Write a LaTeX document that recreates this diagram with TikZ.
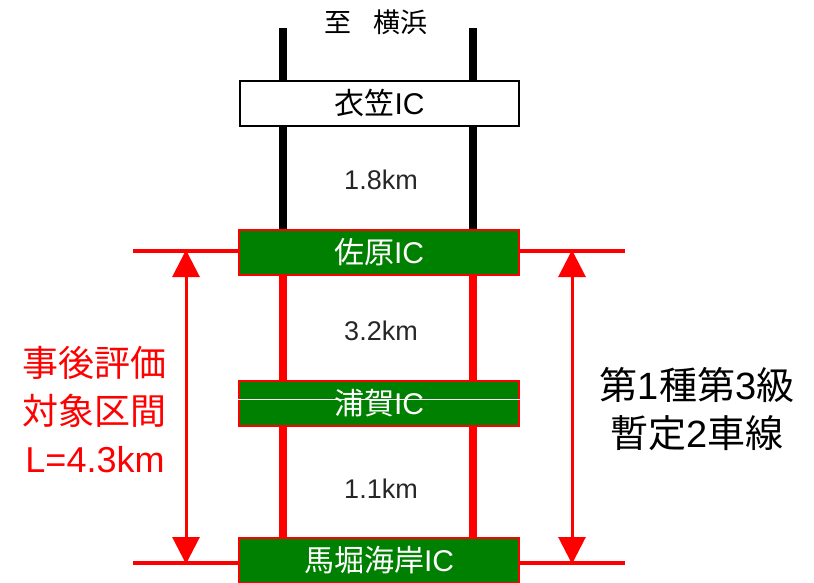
\documentclass[tikz,border=0pt]{standalone}
\usepackage{fontspec}
\setmainfont{Liberation Sans}
\newfontfamily\cjk{Noto Sans CJK JP}
\usetikzlibrary{arrows.meta}
\definecolor{icgreen}{RGB}{0,128,0}
\definecolor{roadred}{RGB}{255,0,0}
\tikzset{
  icbox/.style={draw=roadred,line width=2pt,fill=icgreen,minimum width=280pt,minimum height=45pt,inner sep=0pt,text=white,font=\fontsize{30}{32}\selectfont},
  whitebox/.style={draw=black,line width=2pt,fill=white,minimum width=279pt,minimum height=45pt,inner sep=0pt,text=black,font=\fontsize{30}{32}\selectfont},
  blackroad/.style={line width=8pt,black},
  redroad/.style={line width=8pt,roadred},
  redline/.style={line width=4pt,roadred},
  dimarrow/.style={line width=3pt,roadred,{Triangle[length=27pt,width=27pt]}-{Triangle[length=27pt,width=27pt]},shorten <=-1pt,shorten >=-1pt},
  dist/.style={font=\fontsize{27}{30}\selectfont,text=black!85},
  bigleft/.style={font=\fontsize{36}{48}\selectfont,align=center},
  bigright/.style={font=\fontsize{38}{48}\selectfont,align=center}
}
\begin{document}
\begin{tikzpicture}[x=1pt,y=-1pt]
\useasboundingbox (0,0) rectangle (814,582);
% road ends
\coordinate (lt) at (283,28);
\coordinate (rt) at (473,28);
\coordinate (lb) at (283,538);
\coordinate (rb) at (473,538);
% roads
\draw[blackroad] (lt) -- (283,230);
\draw[blackroad] (rt) -- (473,230);
\draw[redroad] (283,275) -- (lb);
\draw[redroad] (473,275) -- (rb);
% interchanges
\node[whitebox] (kinu) at (379.5,103) {{\cjk 衣笠}IC};
\node[icbox] (sah) at (379,252.5) {{\cjk 佐原}IC};
\node[icbox] (ura) at (379,403) {{\cjk 浦賀}IC};
\node[icbox,anchor=north] (mab) at (379,537) {{\cjk 馬堀海岸}IC};
\draw[white,line width=1pt] (ura.west |- 0,399) -- (ura.east |- 0,399);
% horizontal red lines
\coordinate (hl1) at (133,251);
\coordinate (hr1) at (625,251);
\coordinate (hl2) at (133,563);
\coordinate (hr2) at (625,563);
\draw[redline] (hl1) -- (sah.west |- hl1);
\draw[redline] (sah.east |- hr1) -- (hr1);
\draw[redline] (hl2) -- (mab.west |- hl2);
\draw[redline] (mab.east |- hr2) -- (hr2);
% dimension arrows
\coordinate (al1) at (186,251);
\coordinate (al2) at (186,563);
\coordinate (ar1) at (572,251);
\coordinate (ar2) at (572,563);
\draw[dimarrow] (al1) -- (al2);
\draw[dimarrow] (ar1) -- (ar2);
% texts
\node[font=\fontsize{27}{30}\selectfont\cjk] (to) at (376,22) {至\hspace{0.78em}横浜};
\node[dist] (d1) at (381,180) {1.8km};
\node[dist] (d2) at (381,331) {3.2km};
\node[dist] (d3) at (381,489) {1.1km};
\node[bigleft,text=roadred] (lab) at (95,410) {{\cjk 事後評価}\\{\cjk 対象区間}\\L=4.3km};
\node[bigright,text=black] (type) at (697,409) {{\cjk 第}1{\cjk 種第}3{\cjk 級}\\{\cjk 暫定}2{\cjk 車線}};
\end{tikzpicture}
\end{document}
